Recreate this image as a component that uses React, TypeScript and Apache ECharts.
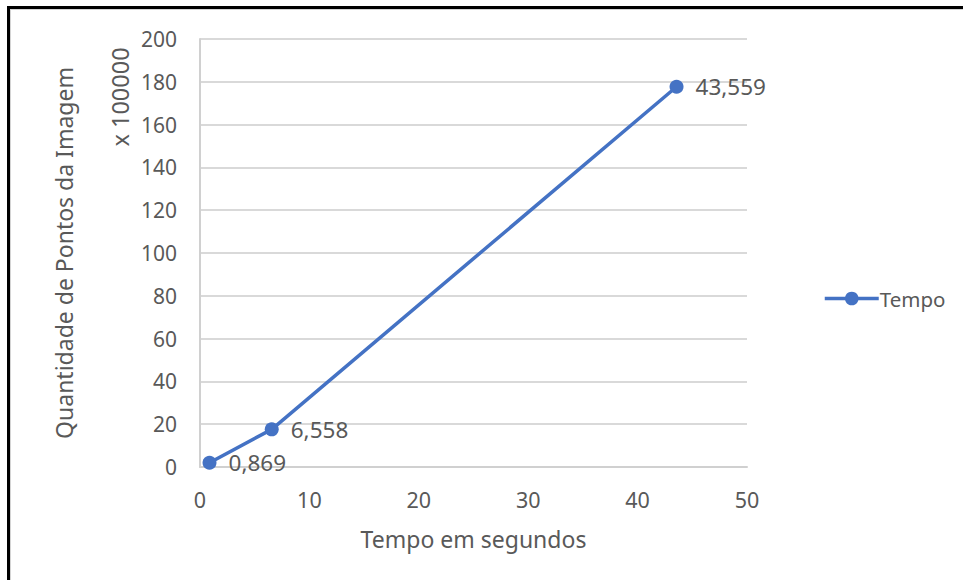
import React, { useEffect, useRef } from "react";
import * as echarts from "echarts";

// Processing time (s) against number of image points (x 100000)
const tempoSegundos = [0.869, 6.558, 43.559];
const pontosImagem = [2.0, 17.6, 177.7];
const seriesName = "Tempo";
const xTitle = "Tempo em segundos";
const yTitle = "Quantidade de Pontos da Imagem";
const unitLabel = "x 100000";

const FONT = "'Noto Sans', sans-serif";
const TEXT = "#595959";
const BLUE = "#4472C4";

export default function App() {
  const ref = useRef<HTMLDivElement>(null);

  useEffect(() => {
    if (!ref.current) return;
    const chart = echarts.init(ref.current, null, { renderer: "svg" });
    const data = tempoSegundos.map((t, i) => [t, pontosImagem[i]]);
    chart.setOption({
      animation: false,
      backgroundColor: "#ffffff",
      textStyle: { fontFamily: FONT, color: TEXT },
      grid: { left: 200, right: 216, top: 39, bottom: 113, containLabel: false },
      legend: {
        left: 818,
        top: 283,
        itemWidth: 54,
        itemHeight: 17,
        lineStyle: { width: 3.5, color: BLUE },
        itemStyle: { color: BLUE },
        textStyle: { fontFamily: FONT, fontSize: 20.5, color: TEXT, padding: [0, 0, 0, -4] },
        itemGap: 6,
        data: [seriesName],
      },
      xAxis: {
        type: "value",
        min: 0,
        max: 50,
        interval: 10,
        name: xTitle,
        nameLocation: "middle",
        nameGap: 60,
        nameTextStyle: { fontFamily: FONT, fontSize: 23, color: TEXT },
        axisLine: { show: true, lineStyle: { color: "#d0d0d0", width: 2 } },
        axisTick: { show: false },
        axisLabel: { fontFamily: FONT, fontSize: 21.5, color: TEXT, margin: 21 },
        splitLine: { show: false },
      },
      yAxis: {
        type: "value",
        min: 0,
        max: 200,
        interval: 20,
        name: yTitle,
        nameLocation: "middle",
        nameGap: 125,
        nameRotate: 90,
        nameTextStyle: { fontFamily: FONT, fontSize: 23, color: TEXT },
        axisLine: { show: true, lineStyle: { color: "#d0d0d0", width: 2 } },
        axisTick: { show: false },
        axisLabel: { fontFamily: FONT, fontSize: 21, color: TEXT, margin: 23 },
        splitLine: { show: true, lineStyle: { color: "#d9d9d9", width: 2 } },
      },
      graphic: [
        {
          type: "text",
          x: 120,
          y: 97,
          rotation: Math.PI / 2,
          style: {
            text: unitLabel,
            font: `23.5px ${FONT}`,
            fill: TEXT,
            align: "center",
            verticalAlign: "middle",
          },
        },
        // page frame
        {
          type: "line",
          shape: { x1: 8.5, y1: 6, x2: 8.5, y2: 580 },
          style: { stroke: "#000", lineWidth: 3 },
        },
        {
          type: "line",
          shape: { x1: 7, y1: 7.5, x2: 963, y2: 7.5 },
          style: { stroke: "#000", lineWidth: 3 },
        },
        {
          type: "line",
          shape: { x1: 10.5, y1: 9, x2: 10.5, y2: 580 },
          style: { stroke: "#d4d4d4", lineWidth: 1 },
        },
        {
          type: "line",
          shape: { x1: 10, y1: 9.5, x2: 963, y2: 9.5 },
          style: { stroke: "#d4d4d4", lineWidth: 1 },
        },
      ],
      series: [
        {
          name: seriesName,
          type: "line",
          data,
          symbol: "circle",
          symbolSize: 14,
          itemStyle: { color: BLUE },
          lineStyle: { color: BLUE, width: 3.5 },
          label: {
            show: true,
            position: "right",
            distance: 12,
            fontFamily: FONT,
            fontSize: 22.5,
            color: TEXT,
            formatter: (p: any) => p.value[0].toFixed(3).replace(".", ","),
          },
        },
      ],
    });
    return () => chart.dispose();
  }, []);

  return (
    <div
      ref={ref}
      style={{ position: "fixed", left: 0, top: 0, width: 963, height: 580 }}
    />
  );
}
